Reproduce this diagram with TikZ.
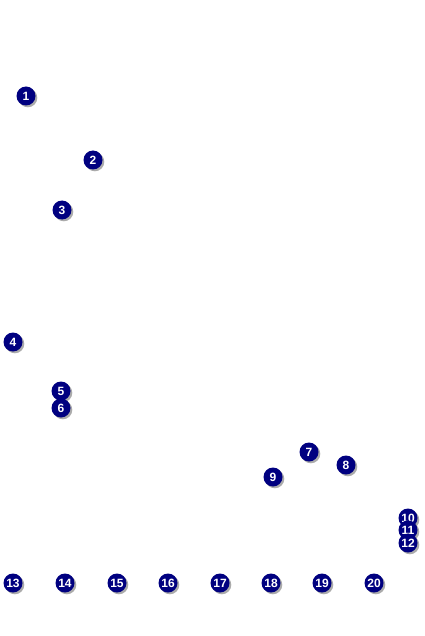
\documentclass[tikz,border=0pt]{standalone}
\usepackage{fontspec}
\setmainfont{Liberation Sans}
\definecolor{navyc}{RGB}{0,0,128}
\definecolor{shadowc}{RGB}{150,150,150}
\tikzset{
  badge/.style={circle, fill=navyc, minimum size=19pt, inner sep=0pt,
    text=white, font=\fontsize{12}{12}\selectfont\bfseries,
    preaction={fill=shadowc, opacity=0.8, transform canvas={shift={(1.8pt,-1.8pt)}}}}
}
\begin{document}
\begin{tikzpicture}[x=1pt,y=-1pt]
\useasboundingbox (0,0) rectangle (424,636);
\node[badge] (n1) at (26,96) {1};
\node[badge] (n2) at (93,160) {2};
\node[badge] (n3) at (62,210) {3};
\node[badge] (n4) at (13,342) {4};
\node[badge] (n5) at (61,391) {5};
\node[badge] (n6) at (61,408) {6};
\node[badge] (n7) at (309,452) {7};
\node[badge] (n8) at (346,465) {8};
\node[badge] (n9) at (273,477) {9};
\node[badge] (n10) at (408,518) {10};
\node[badge] (n11) at (408,530) {11};
\node[badge] (n12) at (408,543) {12};
\node[badge] (n13) at (13,583) {13};
\node[badge] (n14) at (65,583) {14};
\node[badge] (n15) at (117,583) {15};
\node[badge] (n16) at (168,583) {16};
\node[badge] (n17) at (220,583) {17};
\node[badge] (n18) at (271,583) {18};
\node[badge] (n19) at (322,583) {19};
\node[badge] (n20) at (374,583) {20};
\end{tikzpicture}
\end{document}
